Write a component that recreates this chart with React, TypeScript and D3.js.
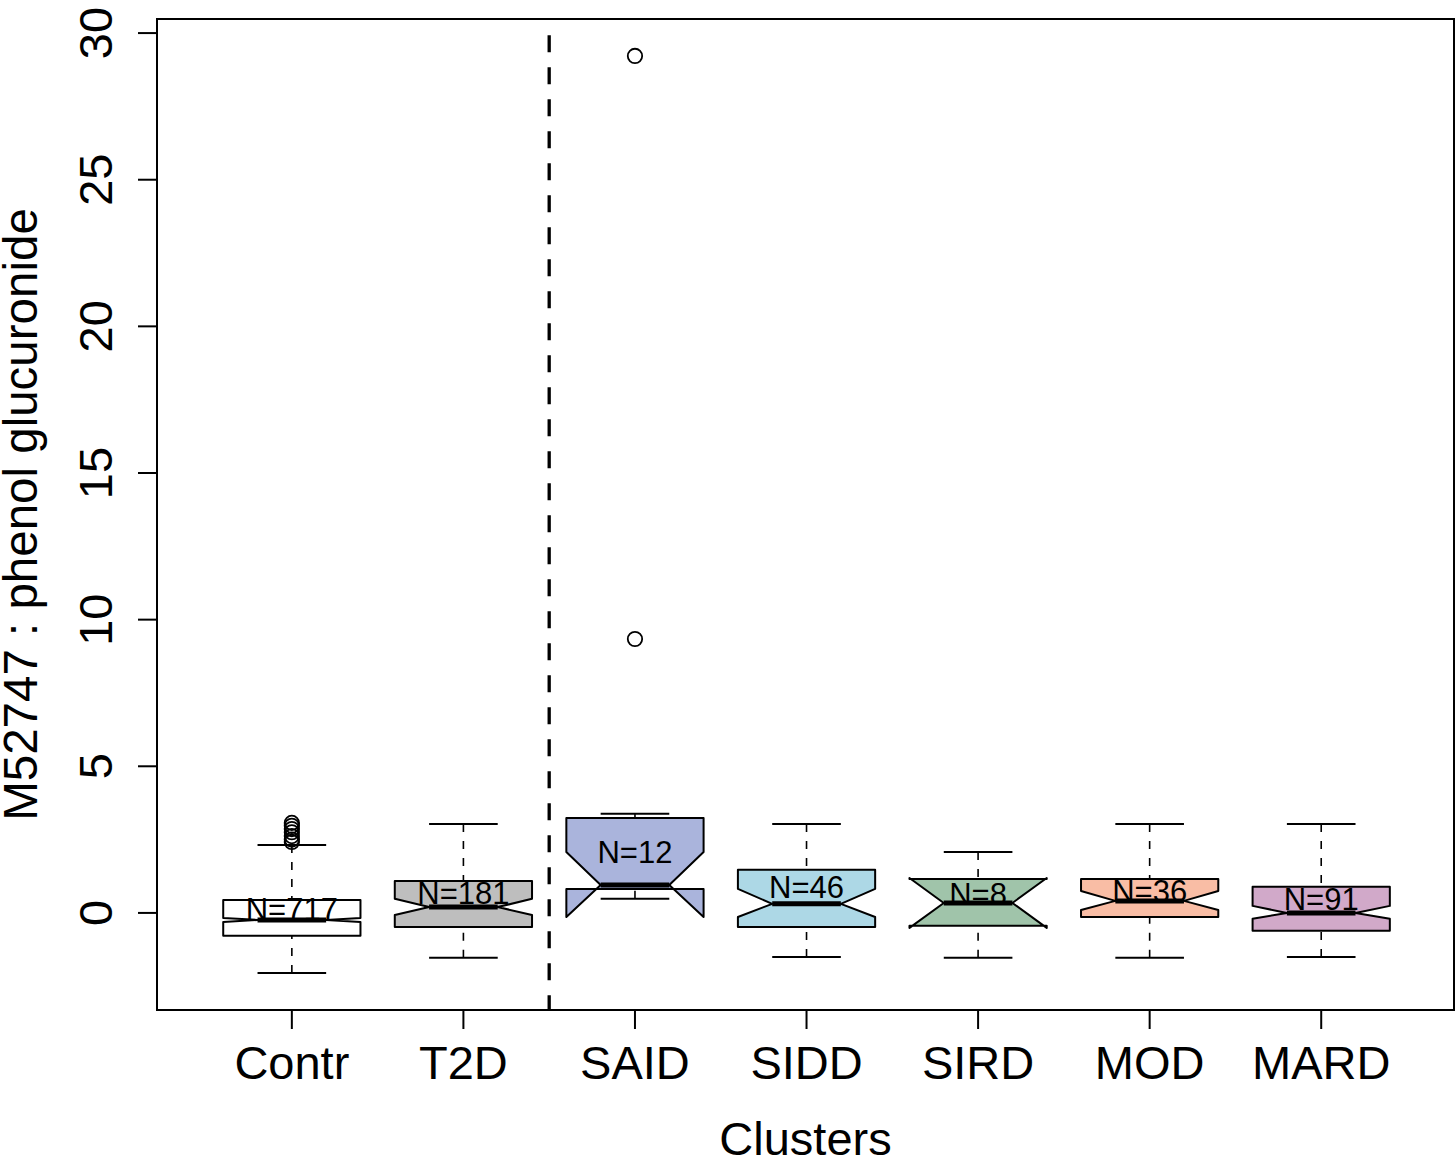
import React from "react";
import * as d3 from "d3";

const groups = ["Contr", "T2D", "SAID", "SIDD", "SIRD", "MOD", "MARD"];
const counts = [717, 181, 12, 46, 8, 36, 91];
const whiskerLow = [-2.05, -1.53, 0.48, -1.5, -1.53, -1.53, -1.5];
const q1 = [-0.78, -0.48, 0.82, -0.48, -0.44, -0.14, -0.61];
const medians = [-0.24, 0.2, 0.95, 0.31, 0.34, 0.41, 0.0];
const q3 = [0.44, 1.09, 3.24, 1.47, 1.16, 1.16, 0.89];
const whiskerHigh = [2.32, 3.03, 3.38, 3.03, 2.08, 3.03, 3.03];
const notchLow = [-0.31, -0.07, -0.14, -0.14, -0.51, 0.1, -0.2];
const notchHigh = [-0.17, 0.48, 2.08, 0.82, 1.19, 0.75, 0.24];
const labelY = [0.14, 0.68, 2.08, 0.89, 0.65, 0.75, 0.48];
const outliers: number[][] = [
  [3.07, 2.97, 2.86, 2.75, 2.62, 2.5, 2.42],
  [],
  [29.22, 9.34],
  [],
  [],
  [],
  [],
];
const fills = ["#FFFFFF", "#BEBEBE", "#AAB4DC", "#ADD8E6", "#A0C4AA", "#F9BDA5", "#D1A9C9"];
const yTicks = [0, 5, 10, 15, 20, 25, 30];
const separatorX = 2.5;
const yTitle = "M52747 : phenol glucuronide";
const xTitle = "Clusters";

const W = 1455;
const H = 1162;
const plot = { left: 157, right: 1454, top: 19, bottom: 1010 };
const FONT = "'Liberation Sans', Arial, Helvetica, sans-serif";

export default function App() {
  const x = d3.scaleLinear().domain([0.214, 7.774]).range([plot.left, plot.right]);
  const y = d3
    .scaleLinear()
    .domain([-3.31, 30.48])
    .range([plot.bottom, plot.top]);
  const boxHalf = x(1.4) - x(1);

  return (
    <svg
      width={W}
      height={H}
      style={{ position: "absolute", left: 0, top: 0, background: "#fff" }}
      fontFamily={FONT}
    >
      {/* separator */}
      <line
        x1={x(separatorX)}
        x2={x(separatorX)}
        y1={y(29.93)}
        y2={plot.bottom}
        stroke="#000"
        strokeWidth={3.3}
        strokeDasharray="17,15"
      />
      {groups.map((g, i) => {
        const cx = x(i + 1);
        const w = boxHalf;
        const pts: [number, number][] = [
          [cx - w, y(q1[i])],
          [cx + w, y(q1[i])],
          [cx + w, y(notchLow[i])],
          [cx + w / 2, y(medians[i])],
          [cx + w, y(notchHigh[i])],
          [cx + w, y(q3[i])],
          [cx - w, y(q3[i])],
          [cx - w, y(notchHigh[i])],
          [cx - w / 2, y(medians[i])],
          [cx - w, y(notchLow[i])],
        ];
        const line = d3.line();
        const capHalf = w * 0.5;
        return (
          <g key={g}>
            <line x1={cx} x2={cx} y1={y(whiskerHigh[i])} y2={y(q3[i])} stroke="#000" strokeWidth={1.6} strokeDasharray="8,9" />
            <line x1={cx} x2={cx} y1={y(whiskerLow[i])} y2={y(q1[i])} stroke="#000" strokeWidth={1.6} strokeDasharray="8,9" />
            <line x1={cx - capHalf} x2={cx + capHalf} y1={y(whiskerHigh[i])} y2={y(whiskerHigh[i])} stroke="#000" strokeWidth={2} />
            <line x1={cx - capHalf} x2={cx + capHalf} y1={y(whiskerLow[i])} y2={y(whiskerLow[i])} stroke="#000" strokeWidth={2} />
            <path d={line(pts) + "Z"} fill={fills[i]} stroke="#000" strokeWidth={2} strokeLinejoin="round" />
            <line x1={cx - w / 2} x2={cx + w / 2} y1={y(medians[i])} y2={y(medians[i])} stroke="#000" strokeWidth={5} />
            {outliers[i].map((v, j) => (
              <circle key={j} cx={cx} cy={y(v)} r={7.2} fill="none" stroke="#000" strokeWidth={1.8} />
            ))}
            <text x={cx} y={y(labelY[i])} dy="0.36em" textAnchor="middle" fontSize={31} fill="#000">
              {"N=" + counts[i]}
            </text>
          </g>
        );
      })}
      {/* frame */}
      <rect
        x={plot.left}
        y={plot.top}
        width={plot.right - plot.left}
        height={plot.bottom - plot.top}
        fill="none"
        stroke="#000"
        strokeWidth={2}
      />
      {/* x axis */}
      <line x1={x(1)} x2={x(7)} y1={plot.bottom} y2={plot.bottom} stroke="#000" strokeWidth={2} />
      {groups.map((g, i) => (
        <g key={"xt" + g}>
          <line x1={x(i + 1)} x2={x(i + 1)} y1={plot.bottom} y2={plot.bottom + 19} stroke="#000" strokeWidth={2} />
          <text x={x(i + 1)} y={1079} textAnchor="middle" fontSize={47} fill="#000">
            {g}
          </text>
        </g>
      ))}
      {/* y axis */}
      <line x1={plot.left} x2={plot.left} y1={y(0)} y2={y(30)} stroke="#000" strokeWidth={2} />
      {yTicks.map((t) => (
        <g key={"yt" + t}>
          <line x1={plot.left - 19} x2={plot.left} y1={y(t)} y2={y(t)} stroke="#000" strokeWidth={2} />
          <text
            transform={`translate(112,${y(t)}) rotate(-90)`}
            textAnchor="middle"
            fontSize={47}
            fill="#000"
          >
            {t}
          </text>
        </g>
      ))}
      <text x={(plot.left + plot.right) / 2} y={1155} textAnchor="middle" fontSize={47} fill="#000">
        {xTitle}
      </text>
      <text
        transform={`translate(37,${(plot.top + plot.bottom) / 2}) rotate(-90)`}
        textAnchor="middle"
        fontSize={47.5}
        fill="#000"
      >
        {yTitle}
      </text>
    </svg>
  );
}
